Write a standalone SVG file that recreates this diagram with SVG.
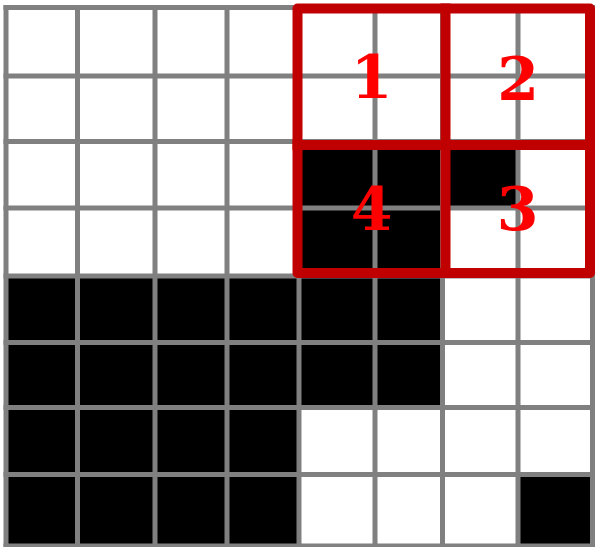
<svg xmlns="http://www.w3.org/2000/svg" width="595" height="547" viewBox="0 0 595 547">
<style>
.blk{fill:#000}
.grid{stroke:#808080;stroke-width:5;fill:none;stroke-linecap:square}
.frame{stroke:#c00000;stroke-width:10;fill:none;stroke-linejoin:round;stroke-linecap:square}
.lbl{font-family:"DejaVu Serif","Liberation Serif",serif;font-weight:bold;font-size:60px;fill:#ff0000;text-anchor:middle}
</style>
<rect width="595" height="547" fill="#fff"/>
<g id="cells">
<rect class="blk" x="299" y="141.5" width="219" height="66.5"/>
<rect class="blk" x="299" y="208" width="143.5" height="68"/>
<rect class="blk" x="6" y="276" width="436.5" height="131.5"/>
<rect class="blk" x="6" y="407.5" width="293" height="139"/>
<rect class="blk" x="518" y="474.5" width="74.5" height="72"/>
</g>
<g id="grid">
<path class="grid" d="M6 7.5V546M77.5 7.5V546M155 7.5V546M227 7.5V546M299 7.5V546M375 7.5V546M442.5 7.5V546M518 7.5V546M592.5 7.5V546"/>
<path class="grid" d="M6 7.5H592.5M6 76H592.5M6 141.5H592.5M6 208H592.5M6 276H592.5M6 342.5H592.5M6 407.5H592.5M6 474.5H592.5M6 546H592.5"/>
</g>
<g id="frame">
<rect class="frame" x="297.5" y="8.5" width="292.5" height="264.5"/>
<path class="frame" d="M445.5 8.5V273M297.5 145H590"/>
</g>
<g id="quadrant-1"><text class="lbl" x="371.5" y="98">1</text></g>
<g id="quadrant-2"><text class="lbl" x="518" y="100">2</text></g>
<g id="quadrant-3"><text class="lbl" x="517.5" y="230">3</text></g>
<g id="quadrant-4"><text class="lbl" x="371.5" y="230">4</text></g>
</svg>
